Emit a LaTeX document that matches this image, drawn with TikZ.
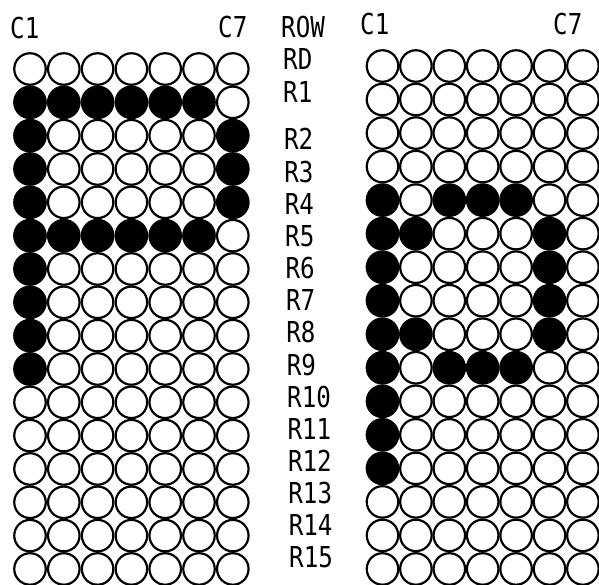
\documentclass[tikz,border=0pt]{standalone}
\usepackage{fontspec}
\newfontfamily\lbl[FakeStretch=0.84]{DejaVu Sans Mono}
\colorlet{c0}{white}
\colorlet{c1}{black}
\begin{document}
\begin{tikzpicture}[x=1pt,y=-1pt,
  cell/.style={circle,draw=black,line width=2.2pt,minimum size=31.5pt,inner sep=0pt},
  lab/.style={font=\lbl\fontsize{28.8}{30}\selectfont,anchor=base west,inner sep=0pt}]
\useasboundingbox (0,0) rectangle (599,585);
\fill[white] (0,0) rectangle (599,585);
% left grid
\foreach \row [count=\r from 0] in {
 {0,0,0,0,0,0,0},
 {1,1,1,1,1,1,0},
 {1,0,0,0,0,0,1},
 {1,0,0,0,0,0,1},
 {1,0,0,0,0,0,1},
 {1,1,1,1,1,1,0},
 {1,0,0,0,0,0,0},
 {1,0,0,0,0,0,0},
 {1,0,0,0,0,0,0},
 {1,0,0,0,0,0,0},
 {0,0,0,0,0,0,0},
 {0,0,0,0,0,0,0},
 {0,0,0,0,0,0,0},
 {0,0,0,0,0,0,0},
 {0,0,0,0,0,0,0},
 {0,0,0,0,0,0,0}}
{\foreach \f [count=\c] in \row
  {\node[cell,fill=c\f] (L\r-\c) at ({30+33.8*(\c-1)},{69+33.33*\r}) {};}}
% right grid
\foreach \row [count=\r from 0] in {
 {0,0,0,0,0,0,0},
 {0,0,0,0,0,0,0},
 {0,0,0,0,0,0,0},
 {0,0,0,0,0,0,0},
 {1,0,1,1,1,0,0},
 {1,1,0,0,0,1,0},
 {1,0,0,0,0,1,0},
 {1,0,0,0,0,1,0},
 {1,1,0,0,0,1,0},
 {1,0,1,1,1,0,0},
 {1,0,0,0,0,0,0},
 {1,0,0,0,0,0,0},
 {1,0,0,0,0,0,0},
 {0,0,0,0,0,0,0},
 {0,0,0,0,0,0,0},
 {0,0,0,0,0,0,0}}
{\foreach \f [count=\c] in \row
  {\node[cell,fill=c\f] (R\r-\c) at ({382.5+33.4*(\c-1)},{66+33.53*\r}) {};}}
% column labels
\node[lab] (lc1) at (10,39) {C1};
\node[lab] (lc7) at (218,38) {C7};
\node[lab] (rowh) at (281,38) {ROW};
\node[lab] (rc1) at (360,35) {C1};
\node[lab] (rc7) at (553,35) {C7};
% row labels
\node[lab] (rd) at (283,70) {RD};
\node[lab] (r1) at (283,103) {R1};
\foreach \n in {2,...,15}
  {\node[lab] (r\n) at ({283+0.4*\n},{150+32.15*(\n-2)}) {R\n};}
\end{tikzpicture}
\end{document}
